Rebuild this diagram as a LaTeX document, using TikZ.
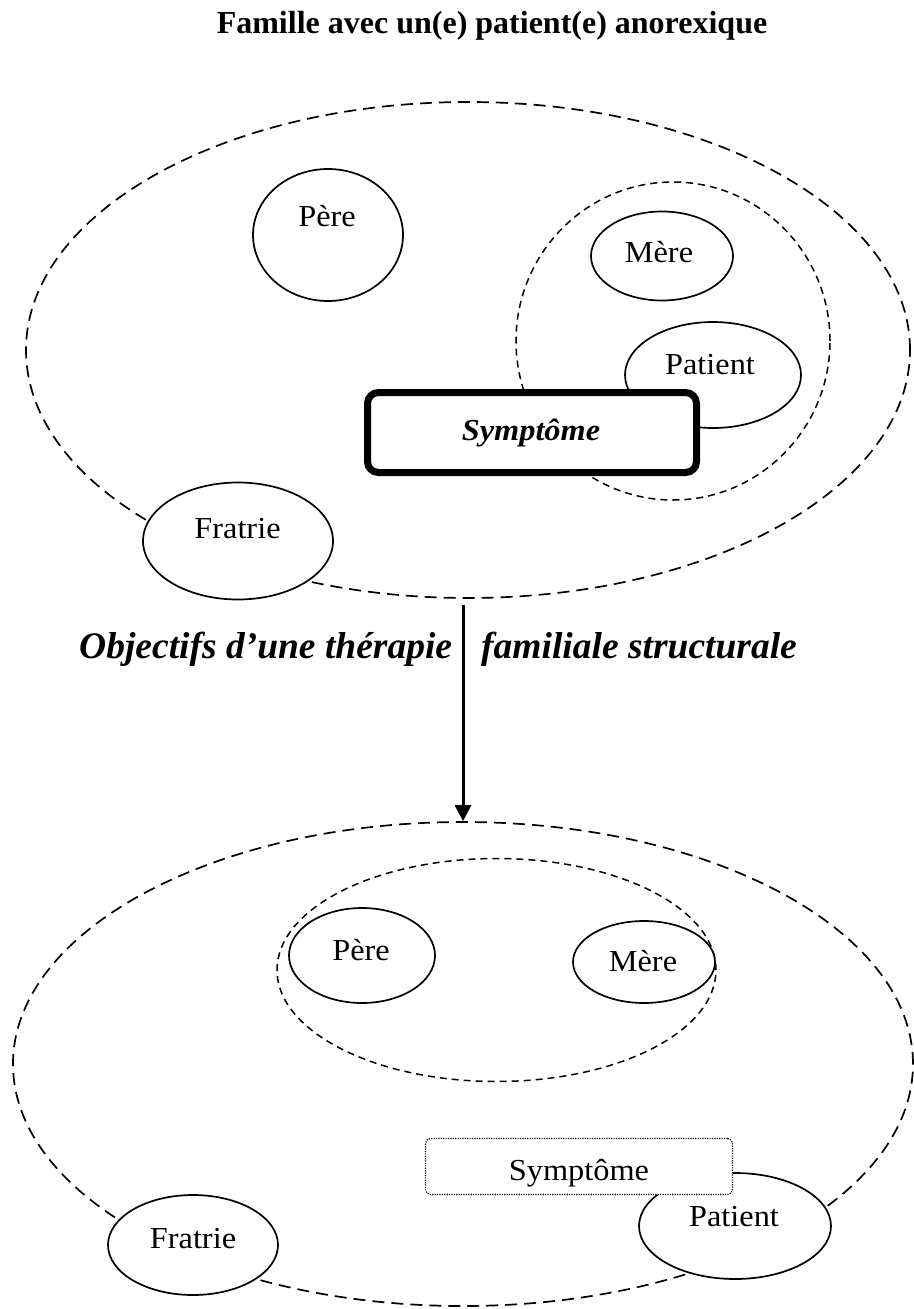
\documentclass[tikz,border=0pt]{standalone}
\usepackage{fontspec}
\setmainfont{Liberation Serif}
\newfontfamily\labelfont[FakeStretch=1.06]{Liberation Serif}
\usetikzlibrary{shapes.geometric,arrows.meta}
\begin{document}
\begin{tikzpicture}[x=1pt,y=-1pt,
  family/.style={ellipse,draw,line width=1.7pt,dash pattern=on 12pt off 7pt,inner sep=0pt},
  bond/.style={ellipse,draw,line width=1.5pt,dash pattern=on 7pt off 5pt,inner sep=0pt},
  member/.style={ellipse,draw,line width=1.7pt,fill=white,inner sep=0pt},
  lbl/.style={anchor=base,inner sep=0pt,font=\labelfont\fontsize{30.5}{36}\selectfont},
]
\useasboundingbox (0,0) rectangle (913,1309);

% title
\node[anchor=base,inner sep=0pt,font=\fontsize{32}{38}\selectfont\bfseries] (title) at (492,33)
  {Famille avec un(e) patient(e) anorexique};

% ---- family with the symptom ----
\node[family,minimum width=884pt,minimum height=496pt] (famA) at (468,350) {};
\node[bond,minimum width=314pt,minimum height=318pt] (bondA) at (673,341) {};
\node[member,minimum width=150pt,minimum height=132pt] (pereA) at (328,235) {};
\node[member,minimum width=142pt,minimum height=89pt] (mereA) at (662,256) {};
\node[member,minimum width=176pt,minimum height=106pt] (patA) at (713,375) {};
\node[member,minimum width=190pt,minimum height=117pt] (fratA) at (238,541) {};
\node[draw,line width=7pt,fill=white,rounded corners=11pt,minimum width=329pt,minimum height=80pt,inner sep=0pt] (symA) at (532,432.5) {};

\node[lbl] (pereAt) at (327,226) {Père};
\node[lbl] (mereAt) at (659,262.5) {Mère};
\node[lbl] (patAt) at (710,374) {Patient};
\node[lbl] (fratAt) at (237.5,538) {Fratrie};
\node[lbl,font=\labelfont\fontsize{30.5}{36}\selectfont\bfseries\itshape] (symAt) at (531,440) {Symptôme};

% ---- transition ----
\node[anchor=base west,inner sep=0pt,font=\fontsize{37.5}{44}\selectfont\bfseries\itshape] (goalL) at (79,658)
  {Objectifs d’une thérapie};
\node[anchor=base west,inner sep=0pt,font=\fontsize{37.5}{44}\selectfont\bfseries\itshape] (goalR) at (481,658)
  {familiale structurale};

% ---- family after therapy ----
\node[family,minimum width=900pt,minimum height=484pt] (famB) at (463,1064) {};
\node[bond,minimum width=439pt,minimum height=223pt] (bondB) at (496.5,970) {};
\coordinate (arrowstart) at (463,605);
\draw[line width=3pt,-{Triangle[length=16pt,width=16pt]}] (arrowstart) -- (famB.north);

\node[member,minimum width=146pt,minimum height=95pt] (pereB) at (362,955.5) {};
\node[member,minimum width=142pt,minimum height=82pt] (mereB) at (644,962) {};
\node[member,minimum width=192pt,minimum height=106pt] (patB) at (735,1226) {};
\node[member,minimum width=170pt,minimum height=100pt] (fratB) at (193,1245) {};
\node[draw,line width=1.1pt,dash pattern=on 1.2pt off 1.2pt,fill=white,rounded corners=5pt,minimum width=307pt,minimum height=56pt,inner sep=0pt] (symB) at (579,1166.5) {};

\node[lbl] (pereBt) at (361,960) {Père};
\node[lbl] (mereBt) at (643,971.5) {Mère};
\node[lbl] (patBt) at (734,1226.5) {Patient};
\node[lbl] (fratBt) at (193,1248) {Fratrie};
\node[lbl] (symBt) at (579,1180.5) {Symptôme};
\end{tikzpicture}
\end{document}
